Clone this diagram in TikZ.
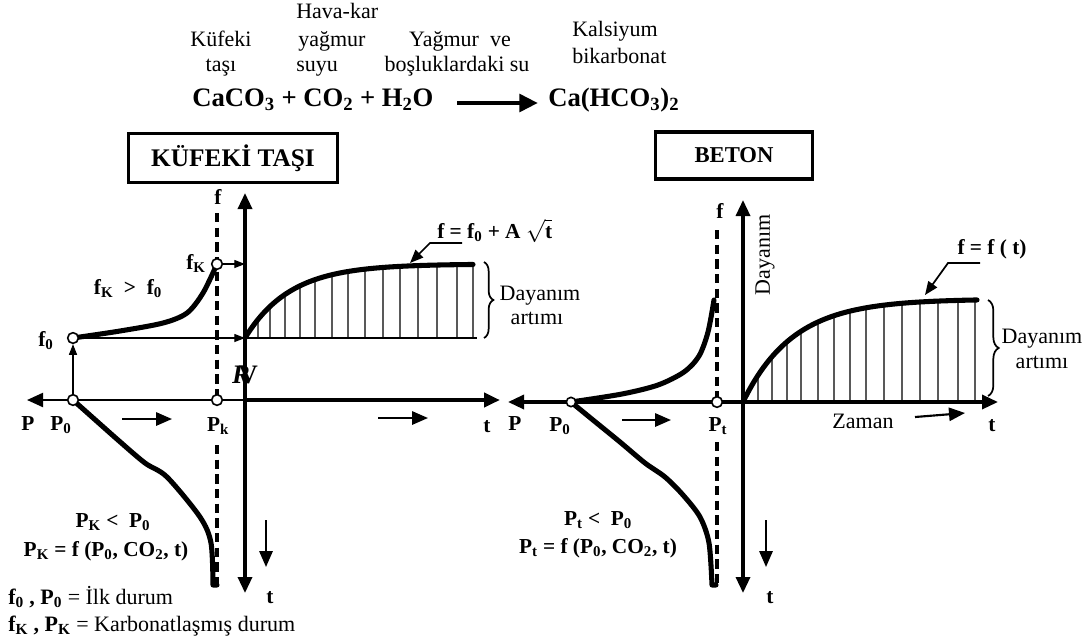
\documentclass[tikz,border=0pt]{standalone}
\usepackage{fontspec}
\setmainfont{Liberation Serif}
\usetikzlibrary{arrows.meta,decorations.pathreplacing,calc}
\begin{document}
\begin{tikzpicture}[x=0.75pt,y=-0.75pt,
  every node/.style={font=\fontsize{16.5}{19}\selectfont, inner sep=0pt},
  bf/.style={font=\fontsize{16}{19}\selectfont\bfseries},
  axisline/.style={line width=2.5pt},
  thinline/.style={line width=0.9pt},
  curveline/.style={line width=3.8pt, line cap=round, line join=round},
  dashline/.style={line width=2.4pt, dash pattern=on 7pt off 4pt},
  hatchline/.style={line width=0.8pt, black!65},
  axtip/.style={-{Triangle[length=12pt,width=10.5pt]}},
  axtips/.style={{Triangle[length=12pt,width=10.5pt]}-{Triangle[length=12pt,width=10.5pt]}},
  smalltip/.style={line width=1.6pt,-{Triangle[length=12pt,width=10pt]}},
  thintip/.style={line width=0.9pt,-{Triangle[length=8pt,width=6pt]}},
  leadertip/.style={line width=1.3pt,-{Triangle[length=10pt,width=8pt]}},
  ring/.style={circle, draw, line width=1.2pt, fill=white, minimum size=8pt, inner sep=0pt},
  titlebox/.style={draw, line width=2.6pt}
]
\useasboundingbox (0,0) rectangle (1087,643);

% ---------- top reaction ----------
\node[anchor=base] (t1) at (221,46) {Küfeki};
\node[anchor=base] (t2) at (221,71) {taşı};
\node[anchor=base west] (t3) at (296,18) {Hava-kar};
\node[anchor=base west] (t4) at (298,46) {yağmur};
\node[anchor=base west] (t5) at (296,71) {suyu};
\node[anchor=base] (t6) at (460,46) {Yağmur\ \ ve};
\node[anchor=base] (t7) at (457,71) {boşluklardaki su};
\node[anchor=base west] (t8) at (572,36) {Kalsiyum};
\node[anchor=base west] (t9) at (572,63) {bikarbonat};
\node[font=\fontsize{20}{22}\selectfont\bfseries, anchor=base west] (eq1) at (192,106) {CaCO\textsubscript{3} + CO\textsubscript{2} + H\textsubscript{2}O};
\node[font=\fontsize{20}{22}\selectfont\bfseries, anchor=base west] (eq2) at (548,106) {Ca(HCO\textsubscript{3})\textsubscript{2}};
\coordinate (ea) at (457,103);
\coordinate (eb) at (538,103);
\draw[line width=3.5pt,-{Triangle[length=14pt,width=13pt]}] (ea) -- (eb);

% ---------- title boxes ----------
\node[titlebox, minimum width=157pt, minimum height=37pt, font=\fontsize{19}{21}\selectfont\bfseries] (kbox) at (233,158) {KÜFEKİ TAŞI};
\node[titlebox, minimum width=118pt, minimum height=35pt, font=\fontsize{17}{19}\selectfont\bfseries] (bbox) at (734,155.5) {BETON};

% =================== LEFT DIAGRAM ===================
\coordinate (L0) at (245,400);
\coordinate (Lleft) at (27,400);
\coordinate (Lright) at (500,400);
\coordinate (Ltop) at (245,193);
\coordinate (Lbot) at (245,593);
\coordinate (Lf0ax) at (245,338);
\coordinate (LfKax) at (245,264);
\coordinate (Lhend) at (477,338);
\coordinate (Ldash1a) at (217,213);
\coordinate (Ldash1b) at (217,400);
\coordinate (Ldash2a) at (217,445);
\coordinate (Ldash2b) at (217,587);

% hatch
\foreach \hx in {258,270,285,300,315,332,348,365,383,400,418,437,457,473}
  \draw[hatchline] (\hx,338) -- (\hx,{264+74*exp(-(\hx-245)/45)});
\draw[thinline] (Lf0ax) -- (Lhend);

% axes
\draw[line width=1.6pt, axtip] (L0) -- (Lleft);
\draw[line width=3.2pt, axtip] (L0) -- (Lright);
\draw[axisline, axtips] (Lbot) -- (Ltop);

% dashed
\draw[dashline] (Ldash1a) -- (Ldash1b);
\draw[dashline] (Ldash2a) -- (Ldash2b);

% growth curve
\draw[curveline] plot[domain=245:473, samples=80] (\x, {264+74*exp(-(\x-245)/45)});

% left curves
\draw[curveline] plot[smooth] coordinates {(73,338) (120,331) (163,323) (187,313) (203,293) (217,264)};
\draw[curveline] plot[smooth] coordinates {(73,400) (118,440) (145,463) (167,477) (200,517) (211,543) (213,585)} -- (217,585);

% rings
\node[ring] (Lp0) at (73,400) {};
\node[ring] (Lf0) at (73,338) {};
\node[ring] (Lpk) at (217,400) {};
\node[ring] (LfK) at (217,264) {};

\draw[thintip] (Lp0) -- (Lf0);
\draw[thintip] (Lf0) -- (Lf0ax);
\draw[thintip] (LfK) -- (LfKax);

% small arrows
\coordinate (La1) at (122,419); \coordinate (La2) at (172,419);
\coordinate (La3) at (378,418); \coordinate (La4) at (428,418);
\coordinate (La5) at (266,520); \coordinate (La6) at (266,567);
\draw[smalltip] (La1) -- (La2);
\draw[smalltip] (La3) -- (La4);
\draw[smalltip] (La5) -- (La6);

% leader
\coordinate (Ll1) at (462,243); \coordinate (Ll2) at (430,243); \coordinate (Ll3) at (410,263);
\draw[leadertip] (Ll1) -- (Ll2) -- (Ll3);

% brace
\coordinate (Lb1) at (484,262); \coordinate (Lb2) at (484,338);
\draw[line width=1.3pt, decorate, decoration={brace, amplitude=7pt}] (Lb1) -- (Lb2);

% labels
\node[bf, anchor=base] (Lf) at (218,204) {f};
\node[bf, anchor=base east] (LfKl) at (206,269) {f\textsubscript{K}};
\node[bf, anchor=base] (Lineq) at (128,294) {f\textsubscript{K}\ \ >\ \ f\textsubscript{0}};
\node[bf, anchor=base] (Lf0l) at (46,346) {f\textsubscript{0}};
\node[bf, anchor=base] (LP) at (28,430) {P};
\node[bf, anchor=base] (LP0) at (61,430) {P\textsubscript{0}};
\node[bf, anchor=base] (LPk) at (218,431) {P\textsubscript{k}};
\node[bf, anchor=base] (Lt) at (487,432) {t};
\node[font=\fontsize{20}{22}\selectfont\bfseries] (Lgl) at (245,375) {\rlap{\itshape R}\hspace{5pt}V};
\node[bf, anchor=base west] (Lfeq) at (437,238) {f = f\textsubscript{0} + A $\sqrt{\textbf{t}}$};
\node[anchor=base] (Lday) at (540,300) {Dayanım};
\node[anchor=base] (Lart) at (537,324) {artımı};
\node[bf, anchor=base] (Lpk1) at (113,527) {P\textsubscript{K} <\ \ P\textsubscript{0}};
\node[bf, anchor=base] (Lpk2) at (106,556) {P\textsubscript{K} = f (P\textsubscript{0}, CO\textsubscript{2}, t)};
\node[bf, anchor=base] (Lt2) at (270,603) {t};
\node[anchor=base west] (Lleg1) at (8,604) {\textbf{f\textsubscript{0} , P\textsubscript{0}} = İlk durum};
\node[anchor=base west] (Lleg2) at (8,631) {\textbf{f\textsubscript{K} , P\textsubscript{K}} = Karbonatlaşmış durum};

% =================== RIGHT DIAGRAM ===================
\coordinate (R0) at (743,402);
\coordinate (Rleft) at (508,402);
\coordinate (Rright) at (998,402);
\coordinate (Rtop) at (743,200);
\coordinate (Rbot) at (743,593);
\coordinate (Rdash1a) at (717,230);
\coordinate (Rdash1b) at (717,402);
\coordinate (Rdash2a) at (717,442);
\coordinate (Rdash2b) at (717,588);

\foreach \hx in {758,772,787,801,818,834,850,866,884,902,920,938,958,975}
  \draw[hatchline] (\hx,402) -- (\hx,{299+103*exp(-(\hx-743)/50)});

\draw[axisline, axtips] (Rleft) -- (Rright);
\draw[axisline, axtips] (Rbot) -- (Rtop);

\draw[dashline] (Rdash1a) -- (Rdash1b);
\draw[dashline] (Rdash2a) -- (Rdash2b);

\draw[curveline] plot[domain=743:977, samples=80] (\x, {299+103*exp(-(\x-743)/50)});

\draw[curveline] plot[smooth] coordinates {(571,402) (622,394) (658,385) (684,372) (699,356) (708,332) (714,300)};
\draw[curveline] plot[smooth] coordinates {(571,402) (593,420) (620,442) (645,463) (665,477) (683,495) (700,517) (709,543) (712,585)} -- (716,585);

\node[ring, minimum size=7pt] (Rp0) at (571,402) {};
\node[ring] (Rpt) at (717,402) {};

\coordinate (Ra1) at (622,420); \coordinate (Ra2) at (671,420);
\coordinate (Ra3) at (915,417); \coordinate (Ra4) at (965,413);
\coordinate (Ra5) at (766,520); \coordinate (Ra6) at (766,567);
\draw[smalltip] (Ra1) -- (Ra2);
\draw[smalltip] (Ra3) -- (Ra4);
\draw[smalltip] (Ra5) -- (Ra6);

\coordinate (Rl1) at (980,263); \coordinate (Rl2) at (948,263); \coordinate (Rl3) at (925,295);
\draw[leadertip] (Rl1) -- (Rl2) -- (Rl3);

\coordinate (Rb1) at (988,300); \coordinate (Rb2) at (988,396);
\draw[line width=1.3pt, decorate, decoration={brace, amplitude=8pt}] (Rb1) -- (Rb2);

\node[bf, anchor=base] (Rf) at (720,218) {f};
\node[rotate=90] (Rdayv) at (765,255) {Dayanım};
\node[bf, anchor=base] (RP) at (515,430) {P};
\node[bf, anchor=base] (RP0) at (560,431) {P\textsubscript{0}};
\node[bf, anchor=base] (RPt) at (718,431) {P\textsubscript{t}};
\node[anchor=base] (Rzaman) at (863,428) {Zaman};
\node[bf, anchor=base] (Rt) at (992,431) {t};
\node[bf, anchor=base] (Rfeq) at (992,254) {f = f ( t)};
\node[anchor=base] (Rday) at (1042,343) {Dayanım};
\node[anchor=base] (Rart) at (1042,368) {artımı};
\node[bf, anchor=base] (Rpt1) at (598,525) {P\textsubscript{t} <\ \ P\textsubscript{0}};
\node[bf, anchor=base] (Rpt2) at (598,553) {P\textsubscript{t} = f (P\textsubscript{0}, CO\textsubscript{2}, t)};
\node[bf, anchor=base] (Rt2) at (770,603) {t};
\end{tikzpicture}
\end{document}
